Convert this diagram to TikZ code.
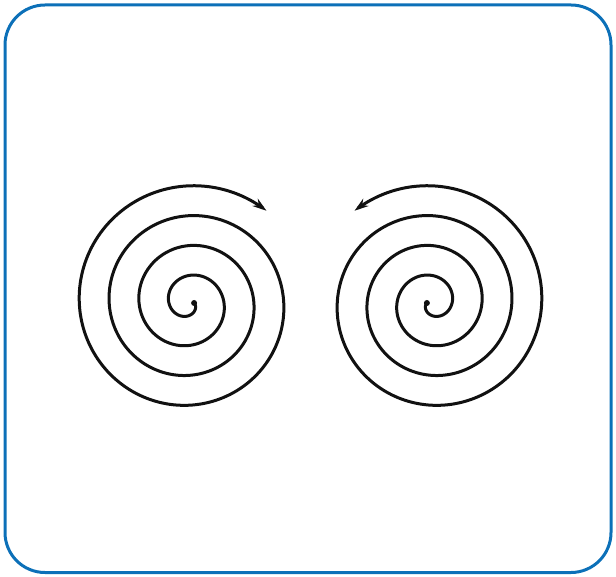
\documentclass[tikz,border=0pt]{standalone}
\usepackage{xcolor}
\usepackage{tikz}
\usetikzlibrary{arrows.meta}
\definecolor{frameblue}{HTML}{0C70B8}
\definecolor{inkblack}{HTML}{111111}

\begin{document}
\begin{tikzpicture}[
  x=1pt, y=-1pt,
  frame/.style={draw=frameblue, line width=3pt, rounded corners=40pt},
  spiral/.style={draw=inkblack, line width=3pt, line cap=round,
                 -{Stealth[length=14pt, width=9pt]}},
  spiralplot/.style={domain=0:1390, samples=320, smooth}
]
\useasboundingbox (0,0) rectangle (616,577);

% outer frame
\draw[frame] (5,5) rectangle (611,572.5);

% left spiral (clockwise, tip at the top right)
\begin{scope}[shift={(189,303)}]
  \fill[inkblack] (0:5.1) circle (3pt);
  \draw[spiral] plot[spiralplot] ({\x}:{0.083*(\x+62)});
\end{scope}

% right spiral (mirror image, tip at the top left)
\begin{scope}[shift={(432,303)}, xscale=-1]
  \fill[inkblack] (0:5.1) circle (3pt);
  \draw[spiral] plot[spiralplot] ({\x}:{0.083*(\x+62)});
\end{scope}
\end{tikzpicture}
\end{document}
